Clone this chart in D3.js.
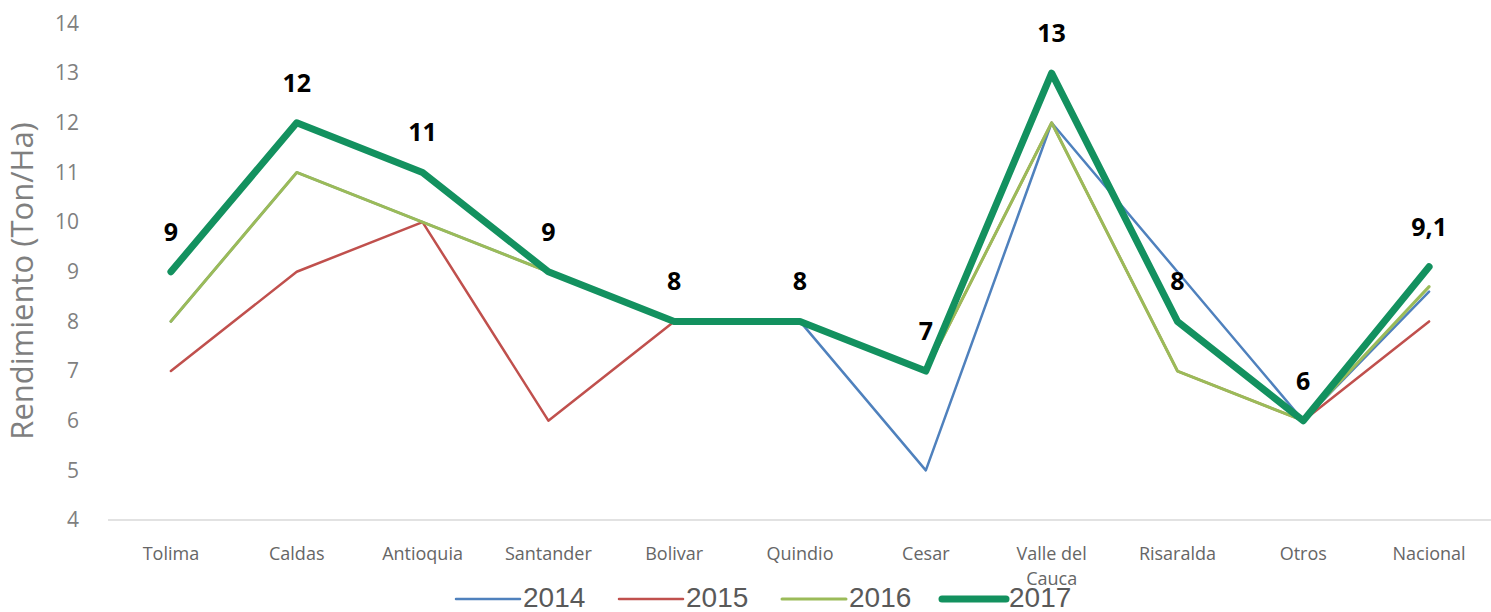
<!DOCTYPE html>
<html>
<head>
<meta charset="utf-8">
<script src="https://cdn.jsdelivr.net/npm/d3@7"></script>
<style>
  body { margin: 0; background: #fff; }
  text { font-family: "Open Sans", Lato, sans-serif; }
</style>
</head>
<body>
<div id="chart"></div>
<script>
// Data
const departments = ["Tolima", "Caldas", "Antioquia", "Santander", "Bolivar", "Quindio", "Cesar", "Valle del Cauca", "Risaralda", "Otros", "Nacional"];
const years = ["2014", "2015", "2016", "2017"];
const values2014 = [8, 11, 10, 9, 8, 8, 5, 12, 9, 6, 8.6];
const values2015 = [7, 9, 10, 6, 8, 8, 7, 12, 7, 6, 8];
const values2016 = [8, 11, 10, 9, 8, 8, 7, 12, 7, 6, 8.7];
const values2017 = [9, 12, 11, 9, 8, 8, 7, 13, 8, 6, 9.1];
const labels2017 = ["9", "12", "11", "9", "8", "8", "7", "13", "8", "6", "9,1"];
const yTicks = [4, 5, 6, 7, 8, 9, 10, 11, 12, 13, 14];

const seriesValues = [values2014, values2015, values2016, values2017];
const colors = ["#4f81bd", "#c0504d", "#9bbb59", "#13915f"];
const widths = [2.5, 2.5, 3, 7];

const width = 1491, height = 612;

const svg = d3.select("#chart").append("svg")
  .attr("width", width)
  .attr("height", height);

// Scales
const x = d3.scalePoint().domain(departments).range([108, 1492]).padding(0.5);
const y = d3.scaleLinear().domain([4, 14]).range([520, 23.5]);

// Y axis (labels only)
const yAxis = svg.append("g")
  .attr("transform", "translate(79,0)")
  .call(d3.axisLeft(y).tickValues(yTicks).tickSize(0).tickPadding(0));
yAxis.select(".domain").remove();
yAxis.selectAll("text")
  .attr("font-size", 21)
  .attr("fill", "#7f7f7f")
  .style("font-family", "'Open Sans', sans-serif");

// Y axis title
svg.append("text")
  .attr("transform", `translate(33,281) rotate(-90)`)
  .attr("text-anchor", "middle")
  .attr("font-size", 31)
  .attr("fill", "#7f7f7f")
  .text("Rendimiento (Ton/Ha)");

// X axis line
svg.append("line")
  .attr("x1", 108).attr("x2", 1492)
  .attr("y1", y(4)).attr("y2", y(4))
  .attr("stroke", "#d9d9d9")
  .attr("stroke-width", 1.5);

// X labels (Valle del Cauca wraps on two lines)
const xLabels = svg.append("g");
departments.forEach((d) => {
  const t = xLabels.append("text")
    .attr("x", x(d))
    .attr("y", 560)
    .attr("text-anchor", "middle")
    .attr("font-size", 18)
    .attr("fill", "#666666");
  if (d === "Valle del Cauca") {
    t.append("tspan").attr("x", x(d)).text("Valle del");
    t.append("tspan").attr("x", x(d)).attr("dy", 25).text("Cauca");
  } else {
    t.text(d);
  }
});

// Lines
const line = d3.line()
  .x((d, i) => x(departments[i]))
  .y((d) => y(d));

seriesValues.forEach((vals, k) => {
  svg.append("path")
    .datum(vals)
    .attr("d", line)
    .attr("fill", "none")
    .attr("stroke", colors[k])
    .attr("stroke-width", widths[k])
    .attr("stroke-linejoin", "round")
    .attr("stroke-linecap", "round");
});

// Data labels for 2017
svg.append("g").selectAll("text")
  .data(values2017)
  .enter()
  .append("text")
  .attr("x", (d, i) => x(departments[i]))
  .attr("y", (d) => y(d) - 31)
  .attr("text-anchor", "middle")
  .attr("font-size", 25)
  .attr("font-weight", "bold")
  .attr("fill", "#000")
  .text((d, i) => labels2017[i]);

// Legend
const legendX = [456, 619, 782, 942];
const legend = svg.append("g");
years.forEach((yr, k) => {
  legend.append("line")
    .attr("x1", legendX[k]).attr("x2", legendX[k] + 64)
    .attr("y1", 599).attr("y2", 599)
    .attr("stroke", colors[k])
    .attr("stroke-width", widths[k])
    .attr("stroke-linecap", "round");
  legend.append("text")
    .attr("x", legendX[k] + 67)
    .attr("y", 607)
    .attr("font-size", 28)
    .attr("fill", "#595959")
    .style("font-family", "'Liberation Sans Narrow', sans-serif")
    .text(yr);
});
</script>
</body>
</html>
